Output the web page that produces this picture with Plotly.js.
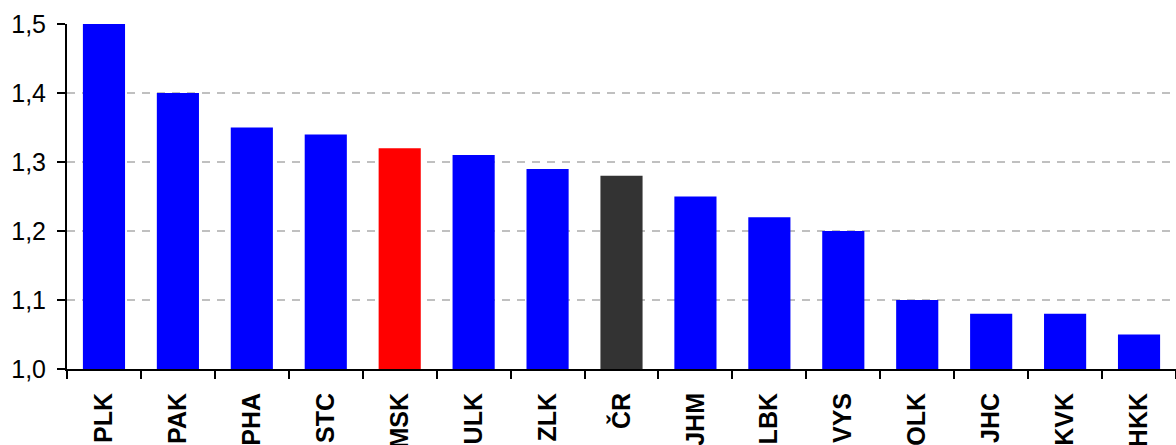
<!DOCTYPE html>
<html><head><meta charset="utf-8">
<script src="https://cdn.plot.ly/plotly-3.0.1.min.js"></script>
<style>html,body{margin:0;padding:0;background:#fff;overflow:hidden}</style>
</head><body><div id="chart" style="width:1176px;height:445px"></div>
<script>
const categories = ["PLK","PAK","PHA","STC","MSK","ULK","ZLK","ČR","JHM","LBK","VYS","OLK","JHC","KVK","HKK"];
const values = [1.50,1.40,1.35,1.34,1.32,1.31,1.29,1.28,1.25,1.22,1.20,1.10,1.08,1.08,1.05];
const yTickVals = [1.0,1.1,1.2,1.3,1.4,1.5];
const yTickText = ["1,0","1,1","1,2","1,3","1,4","1,5"];
const highlightRegion = "MSK";
const totalLabel = "ČR";
const baseValue = 1.0;
const colors = categories.map(c => c === highlightRegion ? "#ff0000" : (c === totalLabel ? "#333333" : "#0000ff"));

Plotly.newPlot("chart", [{
  type: "bar",
  x: categories,
  y: values.map(v => v - baseValue),
  base: baseValue,
  marker: {color: colors, line: {width: 0}},
  hoverinfo: "x+y"
}], {
  width: 1176, height: 445,
  margin: {l: 67, r: 0, t: 24, b: 76},
  paper_bgcolor: "#fff", plot_bgcolor: "#fff",
  separators: ", ",
  bargap: 0.43,
  showlegend: false,
  font: {family: "Liberation Sans, Arial, sans-serif", color: "#000"},
  xaxis: {
    type: "category",
    tickangle: -90,
    tickson: "boundaries",
    ticks: "outside", ticklen: 8, tickwidth: 2, tickcolor: "#000",
    showline: true, linecolor: "#000", linewidth: 2,
    showgrid: false,
    tickfont: {size: 25, family: "Liberation Sans, Arial, sans-serif", weight: "bold"},
    ticklabelstandoff: 12,
    range: [-0.5, 14.5]
  },
  yaxis: {
    range: [1.0, 1.5],
    tickvals: yTickVals,
    ticktext: yTickText,
    ticks: "outside", ticklen: 8, tickwidth: 2, tickcolor: "#000",
    showline: true, linecolor: "#000", linewidth: 2,
    showgrid: true, gridcolor: "#c0c0c0", gridwidth: 2, griddash: "8px,7px",
    zeroline: false,
    tickfont: {size: 25},
    ticklabelstandoff: 6
  }
}, {displayModeBar: false, staticPlot: true});
</script></body></html>
